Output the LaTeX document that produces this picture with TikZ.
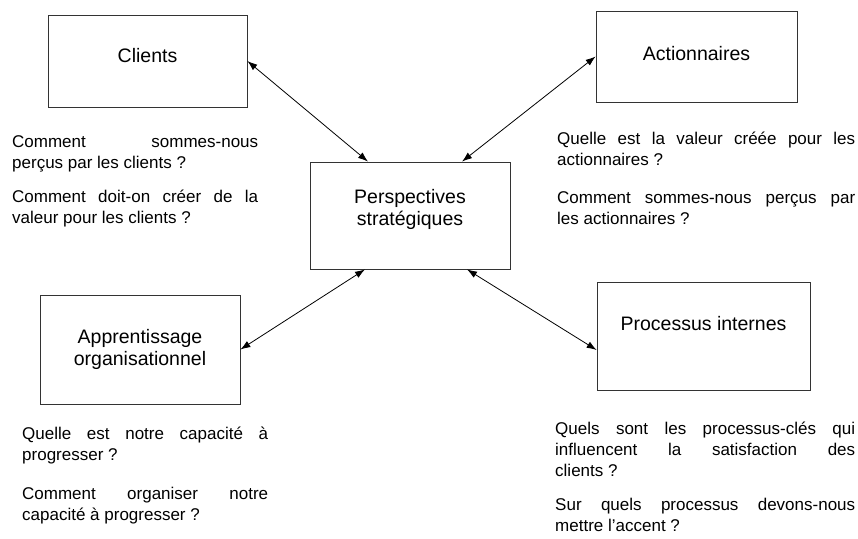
\documentclass[tikz,border=0pt]{standalone}
\usepackage{fontspec}
\setmainfont{Liberation Sans}
\usetikzlibrary{arrows.meta}
\tolerance=10000
\hyphenpenalty=10000
\exhyphenpenalty=10000

\begin{document}
\begin{tikzpicture}[x=1pt,y=-1pt,
  bx/.style={draw=black!80,line width=.8pt,minimum width=200pt,
             minimum height=92pt,inner sep=2pt,
             font=\fontsize{19.5pt}{22pt}\selectfont},
  qs/.style={anchor=north west,align=justify,inner sep=0pt,
             font=\fontsize{17pt}{21pt}\selectfont},
  ar/.style={{Latex[length=10pt,width=7pt]}-{Latex[length=10pt,width=7pt]},
             line width=.8pt},
]
\useasboundingbox (0,0) rectangle (858,538);
% ============ boxes ============
\node[bx,minimum width=199pt,text depth=12pt] (cli) at (147.5,61) {Clients};
\node[bx,minimum width=201pt,minimum height=91pt,text depth=7pt]
  (act) at (696.5,56.5) {Actionnaires};
\node[bx,minimum height=107pt,align=center,text depth=16pt] (psp)
  at (410,215.5) {Perspectives\\stratégiques};
\node[bx,minimum height=109pt,align=center] (app) at (140,349.5)
  {Apprentissage\\organisationnel};
\node[bx,minimum width=213pt,minimum height=108pt,text depth=26pt]
  (pro) at (703.5,336.5) {Processus internes};
% ============ links ============
\draw[ar] (cli.east) -- ([xshift=-42pt]psp.north);
\draw[ar] (act.west) -- ([xshift=52pt]psp.north);
\draw[ar] (app.east) -- ([xshift=-45pt]psp.south);
\draw[ar] ([yshift=-13.5pt]pro.west) -- ([xshift=57pt]psp.south);
% ============ questions ============
\node[qs,text width=246pt] (qcli) at (12,135)
  {Comment sommes-nous\linebreak perçus par les clients ?\\[13pt]
   Comment doit-on créer de la\linebreak valeur pour les clients ?};
\node[qs,text width=298pt] (qact) at (557,132)
  {Quelle est la valeur créée pour les\linebreak actionnaires ?\\[17pt]
   Comment sommes-nous perçus par\linebreak les actionnaires ?};
\node[qs,text width=246pt] (qapp) at (22,427)
  {Quelle est notre capacité à\linebreak progresser ?\\[18pt]
   Comment organiser notre\linebreak capacité à progresser ?};
\node[qs,text width=300pt] (qpro) at (555,422)
  {Quels sont les processus-clés qui\linebreak influencent la satisfaction
   des\linebreak clients ?\\[13pt]
   Sur quels processus devons-nous\linebreak mettre l’accent ?};
\end{tikzpicture}
\end{document}
